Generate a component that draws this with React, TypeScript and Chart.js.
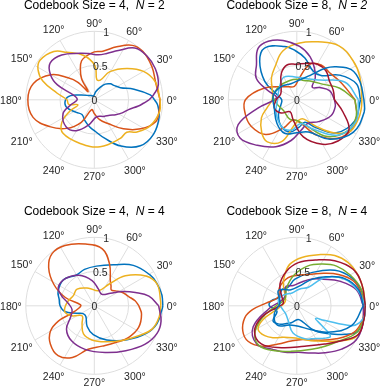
import { useEffect, useRef } from "react";
import { Chart, registerables } from "chart.js";

Chart.register(...registerables);

const W = 381;
const H = 390;
const R_PX = 68.5;
const ANGLE_TICKS = [0, 30, 60, 90, 120, 150, 180, 210, 240, 270, 300, 330];
const R_TICKS = [0, 0.5, 1];
const R_GRID = [0.5, 1];
const R_AXIS_ANGLE = 80;

const BLUE = "#0072BD";
const ORANGE = "#D95319";
const YELLOW = "#EDB120";
const PURPLE = "#7E2F8E";
const GREEN = "#77AC30";
const LIGHTBLUE = "#4DBEEE";
const DARKRED = "#A2142F";

type Pt = [number, number]; // [angle deg, r]

// ---------- Panel 1: Codebook Size = 4, N = 2 ----------
const P1_BLUE: Pt[] = [[0,0.88],[5,0.82],[15,0.6],[25,0.42],[35,0.36],[45,0.33],[55,0.28],[65,0.2],[80,0.12],[100,0.06],[130,0.08],[160,0.2],[170,0.35],[180,0.42],[195,0.42],[215,0.32],[230,0.28],[245,0.33],[260,0.4],[270,0.45],[285,0.58],[300,0.78],[315,0.95],[330,1.0],[345,0.98],[355,0.93]];
const P1_ORANGE: Pt[] = [[0,0.96],[15,0.93],[30,0.97],[45,1.0],[55,0.97],[67,0.84],[80,0.72],[90,0.7],[100,0.65],[108,0.6],[114,0.5],[121,0.36],[127,0.15],[133,0.35],[140,0.5],[150,0.73],[165,0.92],[180,0.97],[196,0.93],[211,0.76],[226,0.58],[240,0.38],[255,0.15],[270,0.2],[285,0.3],[300,0.4],[315,0.6],[328,0.8],[340,0.95],[350,0.96]];
const P1_YELLOW: Pt[] = [[0,0.96],[16,0.93],[30,0.83],[44,0.66],[61,0.47],[73,0.3],[83,0.3],[89,0.5],[104,0.67],[120,0.8],[130,0.92],[144,0.98],[152,0.93],[160,0.8],[170,0.55],[180,0.4],[190,0.38],[197,0.25],[205,0.4],[215,0.58],[227,0.67],[252,0.67],[277,0.69],[304,0.68],[315,0.67],[323,0.78],[335,0.9],[350,0.97]];
const P1_PURPLE: Pt[] = [[0,0.8],[5,0.87],[13,0.96],[27,1.0],[40,1.0],[52,0.96],[64,0.8],[75,0.7],[85,0.66],[97,0.68],[107,0.71],[126,0.81],[140,0.84],[150,0.74],[158,0.58],[168,0.3],[180,0.25],[192,0.35],[204,0.5],[224,0.57],[240,0.52],[257,0.38],[278,0.25],[300,0.28],[315,0.32],[325,0.38],[335,0.45],[344,0.52],[352,0.65],[356,0.72]];

// ---------- Panel 2: Codebook Size = 8, N = 2 ----------
const P2_BLUE: Pt[] = [[0,0.93],[15,0.9],[30,0.72],[45,0.5],[60,0.48],[79,0.62],[92,0.72],[103,0.8],[122,0.89],[134,0.78],[150,0.54],[165,0.3],[180,0.22],[200,0.25],[220,0.35],[240,0.45],[258,0.48],[275,0.4],[290,0.35],[305,0.5],[320,0.75],[340,0.9]];
const P2_ORANGE: Pt[] = [[0,0.85],[20,0.7],[40,0.62],[55,0.62],[70,0.55],[85,0.3],[100,0.2],[130,0.25],[160,0.5],[180,0.75],[195,0.78],[210,0.77],[228,0.68],[245,0.45],[260,0.3],[280,0.35],[300,0.6],[320,0.85],[340,0.92]];
const P2_YELLOW: Pt[] = [[0,0.95],[20,0.98],[35,1.0],[52,1.0],[70,0.9],[87,0.83],[106,0.74],[123,0.58],[139,0.49],[160,0.38],[180,0.36],[195,0.45],[207,0.58],[223,0.7],[235,0.75],[250,0.65],[262,0.4],[275,0.3],[290,0.3],[306,0.48],[318,0.72],[329,0.9],[342,0.94],[352,0.95]];
const P2_PURPLE: Pt[] = [[0,0.55],[15,0.5],[28,0.38],[39,0.29],[50,0.42],[61,0.53],[73,0.66],[87,0.78],[103,0.89],[116,0.95],[127,0.94],[139,0.78],[152,0.67],[162,0.45],[172,0.3],[182,0.35],[192,0.58],[203,0.93],[214,1.0],[229,0.88],[246,0.75],[262,0.6],[278,0.45],[295,0.38],[315,0.45],[335,0.55],[350,0.57]];
const P2_GREEN: Pt[] = [[0,0.85],[15,0.65],[30,0.45],[50,0.35],[70,0.3],[90,0.3],[110,0.3],[140,0.32],[170,0.35],[190,0.3],[220,0.25],[250,0.3],[270,0.3],[290,0.4],[310,0.7],[330,0.88],[345,0.9]];
const P2_LIGHTBLUE: Pt[] = [[0,0.9],[20,0.75],[40,0.45],[60,0.35],[90,0.33],[120,0.38],[150,0.3],[180,0.28],[210,0.35],[240,0.45],[260,0.45],[280,0.35],[300,0.5],[320,0.8],[340,0.92]];
const P2_DARKRED: Pt[] = [[0,0.55],[15,0.55],[30,0.55],[45,0.6],[60,0.6],[75,0.55],[90,0.52],[105,0.53],[120,0.45],[140,0.3],[160,0.25],[180,0.3],[200,0.35],[220,0.3],[240,0.2],[260,0.3],[280,0.55],[300,0.75],[315,0.85],[330,0.88],[345,0.7]];
const P2_BLUE2: Pt[] = [[0,0.98],[16,0.96],[29,0.91],[40,0.75],[48,0.62],[60,0.42],[80,0.3],[110,0.25],[140,0.3],[170,0.35],[200,0.35],[230,0.45],[250,0.52],[270,0.48],[290,0.5],[310,0.75],[330,0.95],[350,1.0]];

// ---------- Panel 3: Codebook Size = 4, N = 4 ----------
const P3_BLUE: Pt[] = [[0,1.0],[9,1.0],[20,0.97],[29,0.93],[46,0.82],[65,0.66],[87,0.58],[105,0.55],[120,0.52],[140,0.59],[158,0.57],[170,0.52],[180,0.5],[191,0.44],[203,0.28],[215,0.2],[232,0.2],[251,0.32],[268,0.42],[290,0.53],[314,0.69],[332,0.86],[344,0.95],[357,0.99]];
const P3_ORANGE: Pt[] = [[0,0.65],[7,0.6],[15,0.52],[26,0.45],[35,0.38],[43,0.34],[50,0.38],[57,0.43],[70,0.65],[82,0.84],[98,0.91],[116,0.98],[129,0.98],[140,0.87],[152,0.67],[164,0.44],[176,0.2],[189,0.23],[199,0.37],[203,0.57],[210,0.74],[221,0.85],[234,0.9],[247,0.82],[262,0.64],[281,0.6],[300,0.62],[317,0.68],[334,0.72],[350,0.7]];
const P3_YELLOW: Pt[] = [[0,0.97],[4,0.97],[19,0.97],[30,0.87],[44,0.63],[56,0.38],[74,0.23],[108,0.27],[136,0.35],[154,0.34],[173,0.4],[191,0.44],[204,0.36],[219,0.23],[236,0.32],[249,0.44],[266,0.5],[287,0.55],[309,0.65],[326,0.78],[338,0.91],[350,0.96]];
const P3_PURPLE: Pt[] = [[0,0.94],[10,0.81],[18,0.63],[27,0.46],[38,0.3],[57,0.2],[76,0.25],[95,0.37],[117,0.5],[137,0.58],[153,0.59],[163,0.5],[175,0.38],[190,0.33],[205,0.38],[220,0.53],[237,0.61],[258,0.65],[283,0.7],[305,0.8],[323,0.93],[336,1.0],[347,1.0]];

// ---------- Panel 4: Codebook Size = 8, N = 4 ----------
const P4_BLUE: Pt[] = [[0,1.0],[13,0.97],[27,0.9],[43,0.76],[66,0.53],[94,0.39],[115,0.3],[129,0.32],[145,0.3],[154,0.28],[169,0.38],[180,0.4],[195,0.3],[212,0.41],[224,0.38],[240,0.3],[252,0.26],[275,0.2],[290,0.25],[306,0.45],[323,0.69],[333,0.9],[338,0.97],[350,1.0]];
const P4_ORANGE: Pt[] = [[0,0.98],[13,0.95],[24,0.9],[37,0.76],[50,0.62],[65,0.51],[85,0.45],[107,0.43],[133,0.37],[155,0.3],[175,0.45],[185,0.65],[193,0.78],[205,0.87],[216,0.88],[229,0.78],[244,0.62],[261,0.52],[280,0.5],[300,0.58],[320,0.75],[335,0.92],[348,0.98]];
const P4_YELLOW: Pt[] = [[0,0.99],[13,1.0],[27,1.0],[40,0.98],[53,0.92],[67,0.81],[84,0.71],[99,0.62],[110,0.5],[122,0.37],[140,0.22],[160,0.18],[180,0.22],[193,0.33],[202,0.53],[211,0.66],[223,0.64],[235,0.57],[247,0.5],[262,0.47],[278,0.49],[292,0.55],[305,0.63],[317,0.76],[329,0.94],[335,0.99],[345,1.0]];
const P4_PURPLE: Pt[] = [[0,0.97],[15,0.9],[30,0.72],[45,0.55],[60,0.45],[80,0.35],[100,0.3],[120,0.32],[140,0.22],[165,0.25],[185,0.4],[206,0.71],[224,0.81],[240,0.73],[256,0.7],[272,0.68],[287,0.72],[301,0.8],[316,0.91],[330,1.0],[345,1.0]];
const P4_GREEN: Pt[] = [[0,1.0],[15,0.97],[30,0.9],[45,0.82],[59,0.71],[75,0.6],[95,0.45],[120,0.3],[150,0.2],[180,0.3],[200,0.55],[214,0.74],[227,0.8],[244,0.73],[263,0.67],[289,0.67],[305,0.72],[320,0.8],[335,0.95],[350,1.0]];
const P4_LIGHTBLUE: Pt[] = [[0,1.0],[14,0.92],[29,0.8],[45,0.58],[58,0.32],[80,0.25],[110,0.2],[140,0.25],[165,0.28],[190,0.22],[215,0.2],[240,0.25],[262,0.4],[285,0.5],[300,0.55],[310,0.62],[318,0.66],[322,0.45],[326,0.33],[332,0.45],[340,0.85],[345,0.95],[352,1.0]];
const P4_DARKRED: Pt[] = [[0,1.0],[18,1.0],[33,0.98],[50,0.86],[68,0.72],[88,0.63],[106,0.53],[128,0.4],[150,0.25],[170,0.2],[185,0.3],[198,0.54],[211,0.72],[227,0.76],[250,0.65],[281,0.6],[306,0.69],[322,0.83],[335,0.99],[348,1.0]];
const P4_BLUE2: Pt[] = [[0,0.97],[15,0.93],[30,0.8],[45,0.6],[60,0.45],[80,0.3],[110,0.25],[140,0.35],[170,0.25],[200,0.35],[225,0.4],[250,0.3],[275,0.3],[300,0.4],[320,0.6],[340,0.85]];

type Panel = {
  cx: number;
  cy: number;
  size: string;
  n: string;
  italicValue: boolean;
  curves: [Pt[], string][];
};

const PANELS: Panel[] = [
  { cx: 94.3, cy: 99.8, size: "4", n: "2", italicValue: false,
    curves: [[P1_BLUE, BLUE], [P1_ORANGE, ORANGE], [P1_YELLOW, YELLOW], [P1_PURPLE, PURPLE]] },
  { cx: 296.8, cy: 99.8, size: "8", n: "2", italicValue: true,
    curves: [[P2_BLUE, BLUE], [P2_ORANGE, ORANGE], [P2_YELLOW, YELLOW], [P2_PURPLE, PURPLE], [P2_GREEN, GREEN], [P2_LIGHTBLUE, LIGHTBLUE], [P2_DARKRED, DARKRED], [P2_BLUE2, BLUE]] },
  { cx: 94.3, cy: 305.8, size: "4", n: "4", italicValue: false,
    curves: [[P3_BLUE, BLUE], [P3_ORANGE, ORANGE], [P3_YELLOW, YELLOW], [P3_PURPLE, PURPLE]] },
  { cx: 296.8, cy: 305.8, size: "8", n: "4", italicValue: false,
    curves: [[P4_BLUE, BLUE], [P4_ORANGE, ORANGE], [P4_YELLOW, YELLOW], [P4_PURPLE, PURPLE], [P4_GREEN, GREEN], [P4_LIGHTBLUE, LIGHTBLUE], [P4_DARKRED, DARKRED], [P4_BLUE2, BLUE]] },
];

const FONT = "'Liberation Sans', Arial, Helvetica, sans-serif";
const TICK_COLOR = "#262626";
const GRID_COLOR = "#dedede";

function toXY(curve: Pt[]) {
  const pts = curve.map(([deg, r]) => {
    const a = (deg * Math.PI) / 180;
    return { x: r * Math.cos(a), y: r * Math.sin(a) };
  });
  pts.push({ ...pts[0] });
  return pts;
}

function makeDecor(panel: Panel) {
  return {
    id: "polarDecor",
    beforeDatasetsDraw(chart: any) {
      const { ctx } = chart;
      const xs = chart.scales.x;
      const ys = chart.scales.y;
      const ox = xs.getPixelForValue(0);
      const oy = ys.getPixelForValue(0);
      ctx.save();
      ctx.strokeStyle = GRID_COLOR;
      ctx.lineWidth = 1;
      for (const r of R_GRID) {
        const rp = xs.getPixelForValue(r) - ox;
        ctx.beginPath();
        ctx.arc(ox, oy, rp, 0, Math.PI * 2);
        ctx.stroke();
      }
      for (const d of ANGLE_TICKS) {
        const a = (d * Math.PI) / 180;
        ctx.beginPath();
        ctx.moveTo(ox, oy);
        ctx.lineTo(xs.getPixelForValue(Math.cos(a)), ys.getPixelForValue(Math.sin(a)));
        ctx.stroke();
      }
      ctx.restore();
    },
    afterDatasetsDraw(chart: any) {
      const { ctx } = chart;
      const xs = chart.scales.x;
      const ys = chart.scales.y;
      const ox = xs.getPixelForValue(0);
      const oy = ys.getPixelForValue(0);
      const rp = xs.getPixelForValue(1) - ox;
      const fs = 10.5;
      const capH = fs * 0.72;
      ctx.save();
      ctx.fillStyle = TICK_COLOR;
      ctx.font = `${fs}px ${FONT}`;
      ctx.textAlign = "center";
      ctx.textBaseline = "alphabetic";
      for (const d of ANGLE_TICKS) {
        const label = `${d}°`;
        const a = (d * Math.PI) / 180;
        const w = ctx.measureText(label).width;
        const c = Math.cos(a);
        const s = Math.sin(a);
        const dist = rp + 4 + Math.abs(c) * w / 2 + Math.abs(s) * capH / 2;
        ctx.fillText(label, ox + dist * c, oy - dist * s + capH / 2);
      }
      const ra = (R_AXIS_ANGLE * Math.PI) / 180;
      for (const r of R_TICKS) {
        const x = xs.getPixelForValue(r * Math.cos(ra));
        const y = ys.getPixelForValue(r * Math.sin(ra));
        ctx.fillText(String(r), x, y + capH / 2);
      }
      const tfs = 12;
      const normal = `${tfs}px ${FONT}`;
      const italic = `italic ${tfs}px ${FONT}`;
      const parts: [string, string][] = [
        [`Codebook Size = ${panel.size},  `, normal],
        ["N", italic],
        [` = ${panel.n}`, panel.italicValue ? italic : normal],
      ];
      let total = 0;
      const widths = parts.map(([t, f]) => {
        ctx.font = f;
        const w = ctx.measureText(t).width;
        total += w;
        return w;
      });
      let x = ox - total / 2;
      ctx.fillStyle = "#000000";
      ctx.textAlign = "left";
      const by = oy - 90.6;
      parts.forEach(([t, f], i) => {
        ctx.font = f;
        ctx.fillText(t, x, by);
        x += widths[i];
      });
      ctx.restore();
    },
  };
}

function PolarPanel({ panel }: { panel: Panel }) {
  const ref = useRef<HTMLCanvasElement | null>(null);
  useEffect(() => {
    if (!ref.current) return;
    const n = panel.curves.length;
    const chart = new Chart(ref.current, {
      type: "scatter",
      data: {
        datasets: panel.curves.map(([pts, color], i) => ({
          data: toXY(pts),
          showLine: true,
          borderColor: color,
          backgroundColor: color,
          borderWidth: 1.5,
          pointRadius: 0,
          pointHoverRadius: 0,
          tension: 0.4,
          fill: false,
          clip: false as any,
          order: n - i,
        })),
      },
      options: {
        responsive: false,
        maintainAspectRatio: false,
        animation: false,
        devicePixelRatio: 1,
        events: [],
        layout: {
          padding: {
            left: panel.cx - R_PX,
            right: W - panel.cx - R_PX,
            top: panel.cy - R_PX,
            bottom: H - panel.cy - R_PX,
          },
        },
        scales: {
          x: { type: "linear", min: -1, max: 1, display: false },
          y: { type: "linear", min: -1, max: 1, display: false },
        },
        plugins: { legend: { display: false }, tooltip: { enabled: false }, title: { display: false } },
      } as any,
      plugins: [makeDecor(panel)],
    });
    return () => chart.destroy();
  }, [panel]);
  return (
    <canvas
      ref={ref}
      width={W}
      height={H}
      style={{ position: "absolute", left: 0, top: 0, width: W, height: H }}
    />
  );
}

export default function App() {
  return (
    <div style={{ position: "fixed", left: 0, top: 0, width: W, height: H, background: "#ffffff", overflow: "hidden" }}>
      {PANELS.map((p, i) => (
        <PolarPanel key={i} panel={p} />
      ))}
    </div>
  );
}
